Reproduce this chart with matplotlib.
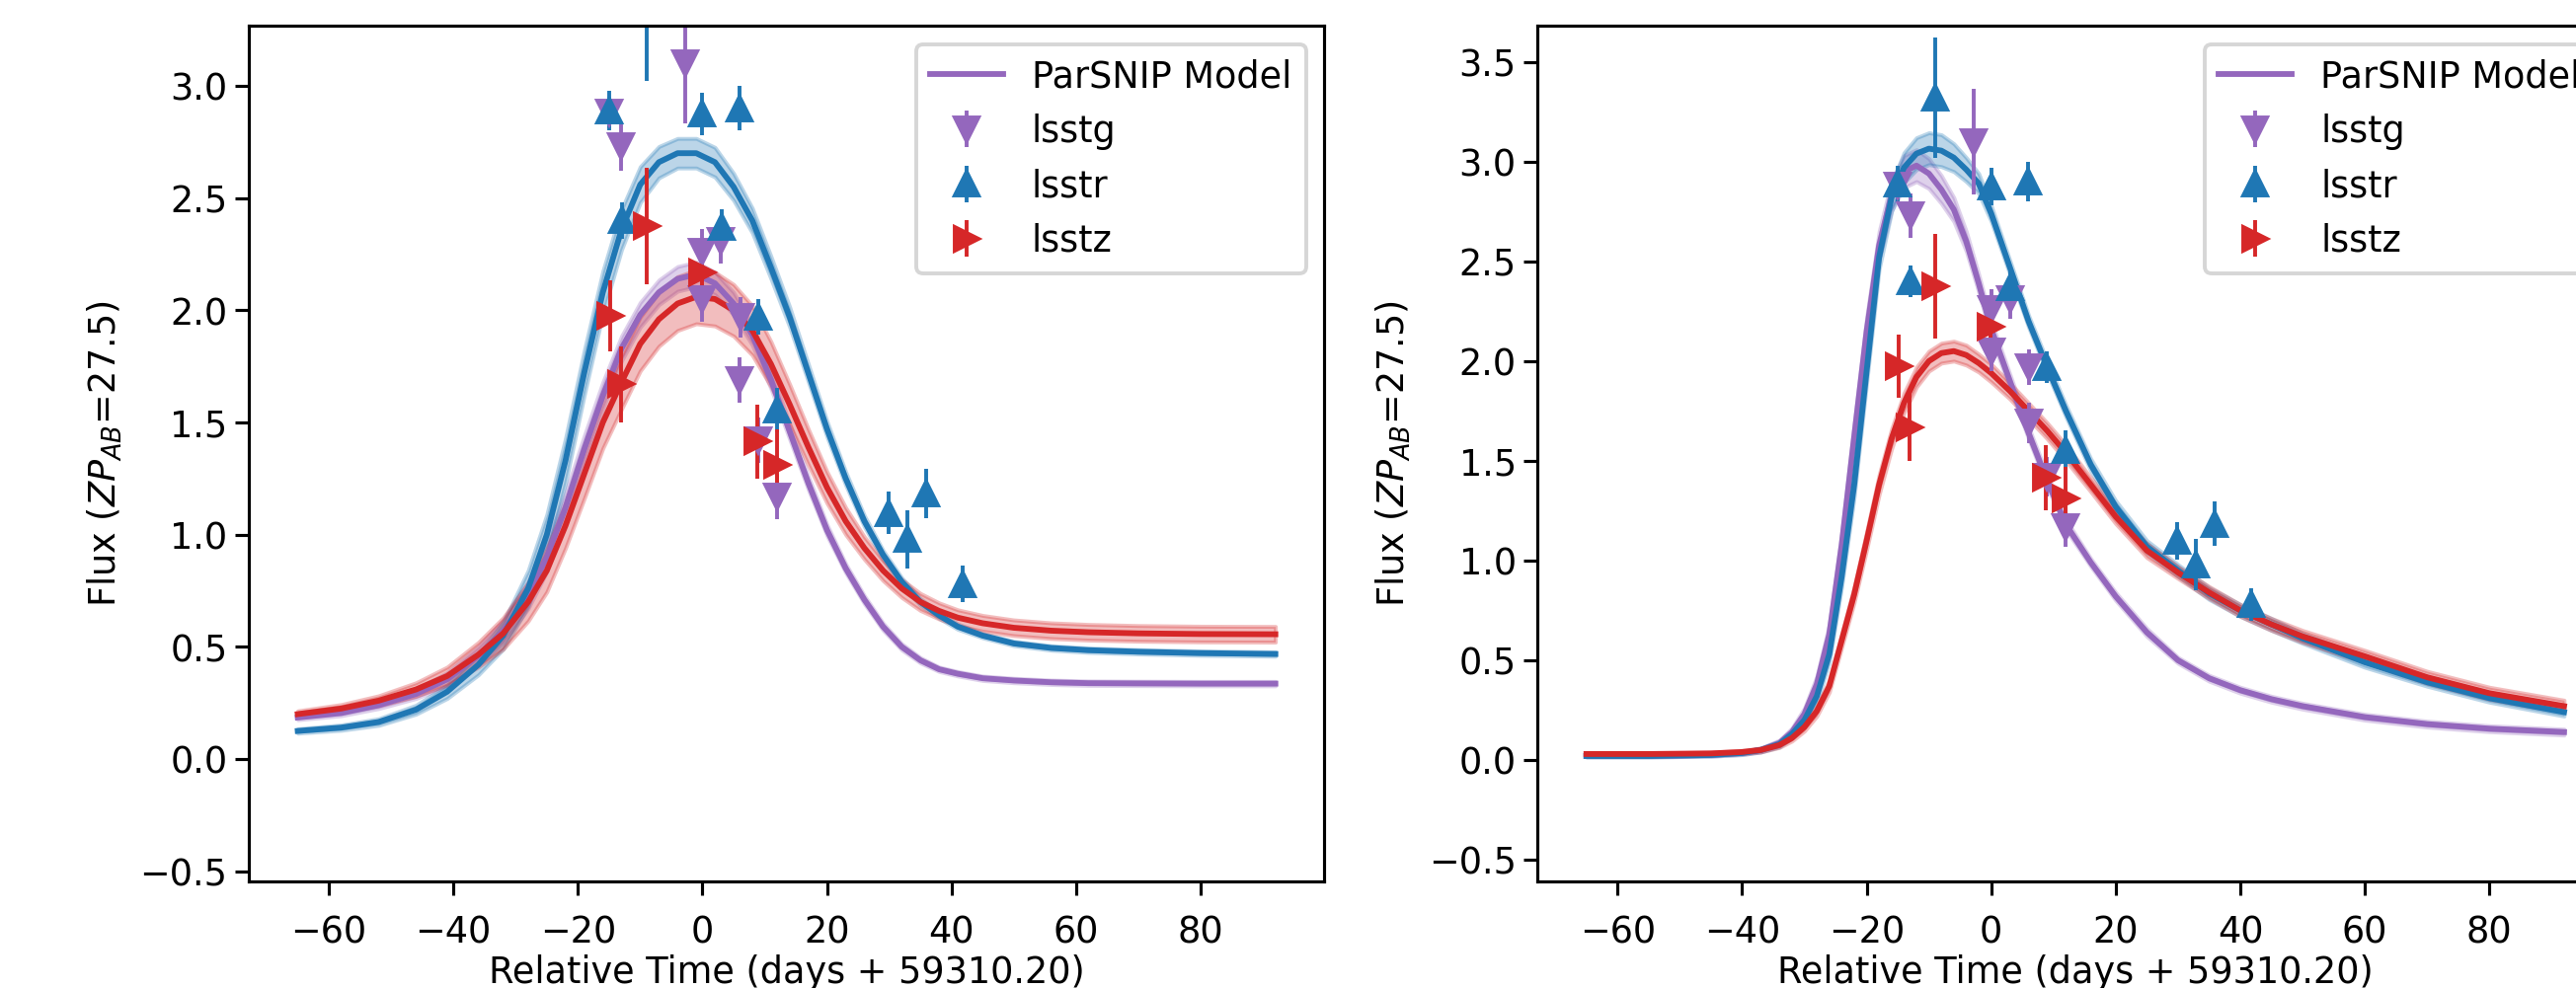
"""Two-panel light curve: ParSNIP model fits with lsst g/r/z photometry."""
import matplotlib
matplotlib.use("Agg")
import matplotlib.pyplot as plt

DPI = 281
CPURPLE, CBLUE, CRED = "#9467bd", "#1f77b4", "#d62728"
plt.rcParams.update({"font.size": 9.4, "xtick.major.pad": 5.0, "ytick.major.pad": 2.0})

# --- observations (shared by both panels) ---
G_T = [-15.0, -13.0, -2.85, 0.0, 0.0, 3.0, 6.05, 6.0, 8.9, 12.0]
G_F = [2.88, 2.73, 3.10, 2.26, 2.05, 2.31, 1.97, 1.69, 1.42, 1.17]
G_E = [0.07, 0.11, 0.265, 0.10, 0.10, 0.10, 0.09, 0.10, 0.10, 0.10]

R_T = [-15.0, -12.9, -9.0, 0.0, 3.1, 5.95, 8.95, 12.0, 29.9, 32.9, 35.9, 41.8]
R_F = [2.89, 2.40, 3.32, 2.875, 2.37, 2.90, 1.97, 1.555, 1.097, 0.98, 1.185, 0.78]
R_E = [0.09, 0.08, 0.30, 0.095, 0.08, 0.10, 0.08, 0.10, 0.095, 0.13, 0.11, 0.08]

Z_T = [-14.9, -13.1, -9.0, -0.1, 8.85, 11.95]
Z_F = [1.975, 1.67, 2.375, 2.17, 1.415, 1.31]
Z_E = [0.16, 0.17, 0.26, 0.10, 0.165, 0.16]

# --- left panel model (symmetric fit) ---
T_LEFT = [-65, -58, -52, -46, -41, -36, -32, -28, -25, -22, -19, -16, -13, -10, -7, -4, -1,
          2, 5, 8, 11, 14, 17, 20, 23, 26, 29, 32, 35, 38, 41, 45, 50, 56, 62, 70, 80, 92]
L_G = [0.185, 0.205, 0.24, 0.29, 0.355, 0.46, 0.57, 0.73, 0.90, 1.12, 1.38, 1.62, 1.83, 1.98,
       2.08, 2.14, 2.16, 2.12, 2.03, 1.89, 1.69, 1.46, 1.23, 1.02, 0.85, 0.71, 0.59, 0.50, 0.44,
       0.40, 0.38, 0.36, 0.35, 0.342, 0.338, 0.337, 0.336, 0.336]
L_R = [0.125, 0.14, 0.165, 0.22, 0.30, 0.42, 0.55, 0.76, 1.00, 1.33, 1.72, 2.08, 2.36, 2.56,
       2.66, 2.70, 2.70, 2.66, 2.55, 2.40, 2.19, 1.97, 1.72, 1.47, 1.25, 1.06, 0.91, 0.79, 0.70,
       0.64, 0.59, 0.55, 0.515, 0.495, 0.485, 0.478, 0.472, 0.468]
L_Z = [0.20, 0.225, 0.26, 0.31, 0.37, 0.465, 0.56, 0.70, 0.84, 1.04, 1.27, 1.50, 1.68, 1.85,
       1.96, 2.03, 2.06, 2.05, 2.00, 1.91, 1.76, 1.58, 1.39, 1.21, 1.06, 0.94, 0.84, 0.76, 0.70,
       0.66, 0.63, 0.605, 0.585, 0.572, 0.565, 0.56, 0.557, 0.556]
L_G_ERR = [0.01, 0.012, 0.015, 0.02, 0.03, 0.04, 0.05, 0.06, 0.065, 0.065, 0.06, 0.06, 0.055,
           0.055, 0.055, 0.055, 0.055, 0.05, 0.05, 0.045, 0.04, 0.035, 0.03, 0.025, 0.02, 0.018,
           0.016, 0.014, 0.012, 0.01, 0.01, 0.01, 0.01, 0.01, 0.01, 0.01, 0.01, 0.01]
L_R_ERR = [0.01, 0.012, 0.015, 0.02, 0.03, 0.045, 0.06, 0.08, 0.09, 0.10, 0.10, 0.095, 0.09,
           0.08, 0.07, 0.066, 0.066, 0.066, 0.06, 0.055, 0.05, 0.045, 0.04, 0.035, 0.03, 0.025,
           0.02, 0.018, 0.015, 0.013, 0.012, 0.01, 0.01, 0.01, 0.01, 0.01, 0.01, 0.01]
L_Z_ERR = [0.015, 0.018, 0.022, 0.03, 0.04, 0.055, 0.07, 0.085, 0.095, 0.10, 0.11, 0.115, 0.12,
           0.12, 0.12, 0.12, 0.12, 0.12, 0.115, 0.11, 0.10, 0.09, 0.08, 0.07, 0.06, 0.05, 0.045,
           0.04, 0.038, 0.036, 0.035, 0.035, 0.035, 0.035, 0.035, 0.035, 0.035, 0.035]

# --- right panel model (fast rise, slow decline) ---
T_RIGHT = [-65, -55, -45, -40, -37, -34, -32, -30, -28, -26, -24, -22, -20, -18, -16, -14, -12,
           -10, -8, -6, -4, -2, 0, 3, 6, 9, 12, 16, 20, 25, 30, 35, 40, 45, 50, 60, 70, 80, 92]
R_G = [0.02, 0.02, 0.025, 0.035, 0.05, 0.085, 0.14, 0.23, 0.38, 0.63, 1.08, 1.62, 2.15, 2.58,
       2.83, 2.95, 2.98, 2.94, 2.86, 2.76, 2.60, 2.39, 2.16, 1.90, 1.64, 1.40, 1.18, 0.99, 0.82,
       0.64, 0.50, 0.41, 0.35, 0.305, 0.27, 0.215, 0.18, 0.157, 0.14]
R_R = [0.02, 0.02, 0.025, 0.035, 0.05, 0.08, 0.13, 0.20, 0.32, 0.53, 0.92, 1.38, 1.95, 2.52,
       2.82, 2.97, 3.04, 3.065, 3.055, 3.02, 2.96, 2.89, 2.74, 2.47, 2.20, 1.97, 1.75, 1.48, 1.27,
       1.07, 0.95, 0.835, 0.75, 0.68, 0.61, 0.49, 0.39, 0.31, 0.24]
R_Z = [0.03, 0.03, 0.033, 0.04, 0.05, 0.075, 0.11, 0.165, 0.245, 0.37, 0.60, 0.83, 1.10, 1.38,
       1.61, 1.79, 1.92, 2.00, 2.04, 2.05, 2.03, 1.99, 1.94, 1.85, 1.75, 1.65, 1.54, 1.38, 1.22,
       1.05, 0.94, 0.84, 0.75, 0.68, 0.62, 0.52, 0.415, 0.335, 0.27]
R_G_ERR = [0.005, 0.005, 0.006, 0.008, 0.01, 0.015, 0.02, 0.03, 0.04, 0.05, 0.06, 0.07, 0.07,
           0.07, 0.075, 0.08, 0.08, 0.075, 0.07, 0.06, 0.05, 0.045, 0.04, 0.035, 0.03, 0.03,
           0.025, 0.02, 0.02, 0.02, 0.015, 0.015, 0.015, 0.015, 0.015, 0.015, 0.015, 0.015, 0.015]
R_R_ERR = [0.005, 0.005, 0.006, 0.008, 0.01, 0.015, 0.02, 0.025, 0.03, 0.04, 0.05, 0.06, 0.06,
           0.06, 0.07, 0.075, 0.08, 0.08, 0.08, 0.07, 0.06, 0.05, 0.04, 0.035, 0.03, 0.03, 0.03,
           0.03, 0.03, 0.03, 0.03, 0.03, 0.03, 0.03, 0.025, 0.025, 0.02, 0.02, 0.02]
R_Z_ERR = [0.005, 0.005, 0.006, 0.008, 0.01, 0.012, 0.015, 0.02, 0.025, 0.03, 0.035, 0.04, 0.045,
           0.05, 0.05, 0.05, 0.05, 0.05, 0.05, 0.05, 0.05, 0.045, 0.045, 0.04, 0.04, 0.04, 0.04,
           0.035, 0.035, 0.035, 0.03, 0.03, 0.03, 0.03, 0.03, 0.03, 0.03, 0.03, 0.03]

YLIM_LEFT = (-0.544, 3.267)
YLIM_RIGHT = (-0.607, 3.68)


def draw(ax, t, models, ylim):
    for i, (flux, err, colour) in enumerate(models):
        lo = [f - e for f, e in zip(flux, err)]
        hi = [f + e for f, e in zip(flux, err)]
        ax.fill_between(t, lo, hi, color=colour, alpha=0.3)
        ax.plot(t, flux, color=colour, lw=1.5, label="ParSNIP Model" if i == 0 else None)
    for tt, ff, ee, fmt, colour, name in [(G_T, G_F, G_E, "v", CPURPLE, "lsstg"),
                                          (R_T, R_F, R_E, "^", CBLUE, "lsstr"),
                                          (Z_T, Z_F, Z_E, ">", CRED, "lsstz")]:
        ax.errorbar(tt, ff, yerr=ee, fmt=fmt, color=colour, elinewidth=1.0, label=name)
    ax.set_ylim(*ylim)
    ax.set_xlabel("Relative Time (days + 59310.20)", labelpad=1.0)
    ax.set_ylabel(r"Flux ($ZP_{AB}$=27.5)")
    ax.legend(loc="upper right")


fig = plt.figure(figsize=(2609.4 / DPI, 1001.4 / DPI), dpi=DPI)
W, H = 2609.0, 1001.0
axL = fig.add_axes([252 / W, (H - 892.7) / H, 1089 / W, 866 / H])
axR = fig.add_axes([1557 / W, (H - 892.7) / H, 1089 / W, 866 / H])

draw(axL, T_LEFT, [(L_G, L_G_ERR, CPURPLE), (L_R, L_R_ERR, CBLUE), (L_Z, L_Z_ERR, CRED)], YLIM_LEFT)
draw(axR, T_RIGHT, [(R_G, R_G_ERR, CPURPLE), (R_R, R_R_ERR, CBLUE), (R_Z, R_Z_ERR, CRED)], YLIM_RIGHT)

fig.savefig("out.png", dpi=DPI)
